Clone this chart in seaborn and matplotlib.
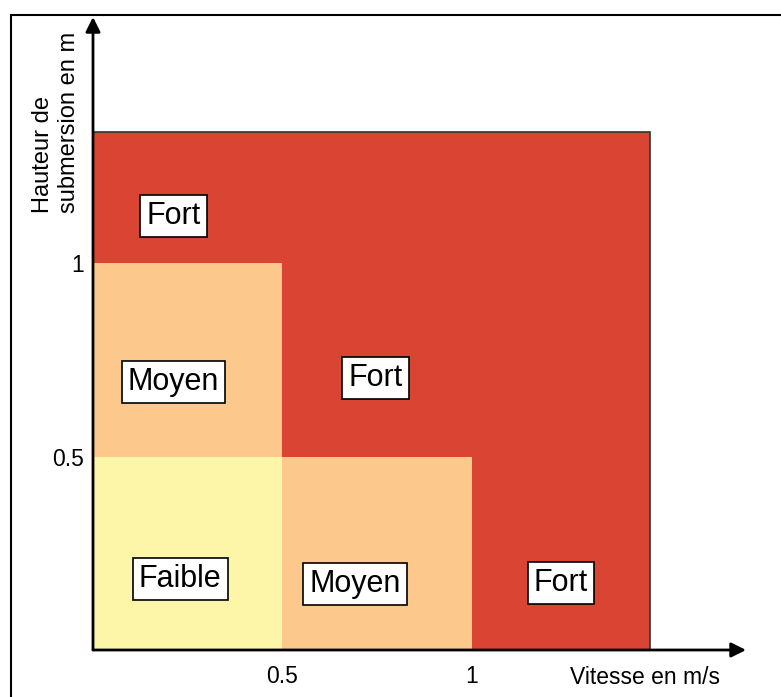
"""Grille d'aléa : hauteur de submersion vs vitesse."""

import matplotlib.pyplot as plt
import seaborn as sns
from matplotlib.patches import Rectangle

# zones d'aléa (du fond vers l'avant)
zone_levels = ["Fort", "Moyen", "Moyen", "Faible"]
zone_x0 = [0.0, 0.0, 0.5, 0.0]
zone_x1 = [1.47, 0.5, 1.0, 0.5]
zone_y0 = [0.0, 0.5, 0.0, 0.0]
zone_y1 = [1.34, 1.0, 0.5, 0.5]

# étiquettes dans les zones
label_texts = ["Fort", "Moyen", "Fort", "Faible", "Moyen", "Fort"]
label_x = [0.212, 0.212, 0.745, 0.230, 0.691, 1.235]
label_y = [1.121, 0.693, 0.703, 0.183, 0.171, 0.173]

tick_values = [0.5, 1]
tick_labels = ["0.5", "1"]

level_colors = {"Fort": "#DA4432", "Moyen": "#FCC88B", "Faible": "#FDF5A8"}

sns.set_style("white")
plt.rcParams["font.family"] = ["Liberation Sans", "DejaVu Sans"]
plt.rcParams["text.color"] = "black"
plt.rcParams["xtick.color"] = "black"
plt.rcParams["ytick.color"] = "black"

W, H = 781, 697
fig = plt.figure(figsize=(W / 100, H / 100), dpi=100)
ax = fig.add_axes([93 / W, 47 / H, 653 / W, 633 / H])
ax.set_xlim(0, 1.723)
ax.set_ylim(0, 1.636)

for lvl, x0, x1, y0, y1 in zip(zone_levels, zone_x0, zone_x1, zone_y0, zone_y1):
    edge = "#333333" if lvl == "Fort" else "none"
    ax.bar(x0, y1 - y0, width=x1 - x0, bottom=y0, align="edge",
           color=level_colors[lvl], edgecolor=edge, linewidth=1.2, zorder=1)

for txt, x, y in zip(label_texts, label_x, label_y):
    ax.text(x, y, txt, ha="center", va="center", fontsize=22, color="black",
            zorder=3,
            bbox=dict(boxstyle="square,pad=0.2", fc="white", ec="black", lw=1.2))

# axes avec flèches
for spine in ax.spines.values():
    spine.set_visible(False)
arrow = dict(arrowstyle="-|>", color="black", lw=2, mutation_scale=22,
             shrinkA=0, shrinkB=0)
ax.annotate("", xy=(1, 0), xytext=(0, 0), xycoords="axes fraction",
            arrowprops=arrow, zorder=4)
ax.annotate("", xy=(0, 1), xytext=(0, 0), xycoords="axes fraction",
            arrowprops=arrow, zorder=4)

ax.set_xticks(tick_values, tick_labels, fontsize=16.5)
ax.set_yticks(tick_values, tick_labels, fontsize=16.5)
ax.tick_params(axis="x", length=0, pad=11, labelcolor="black")
ax.tick_params(axis="y", length=0, pad=6.5, labelcolor="black")

fig.text(570 / W, 1 - 677 / H, "Vitesse en m/s", ha="left", va="center",
         fontsize=16.5, color="black")
fig.text(56 / W, 1 - 213 / H, "Hauteur de\nsubmersion en m", rotation=90,
         ha="center", va="bottom", multialignment="left", fontsize=17,
         color="black")

# cadre autour de la figure
fig.patches.append(Rectangle((11 / W, -0.1), 1.2, 1 - 15 / H + 0.1,
                             transform=fig.transFigure, fill=False,
                             ec="black", lw=1.5))

fig.savefig("out.png", dpi=100)
